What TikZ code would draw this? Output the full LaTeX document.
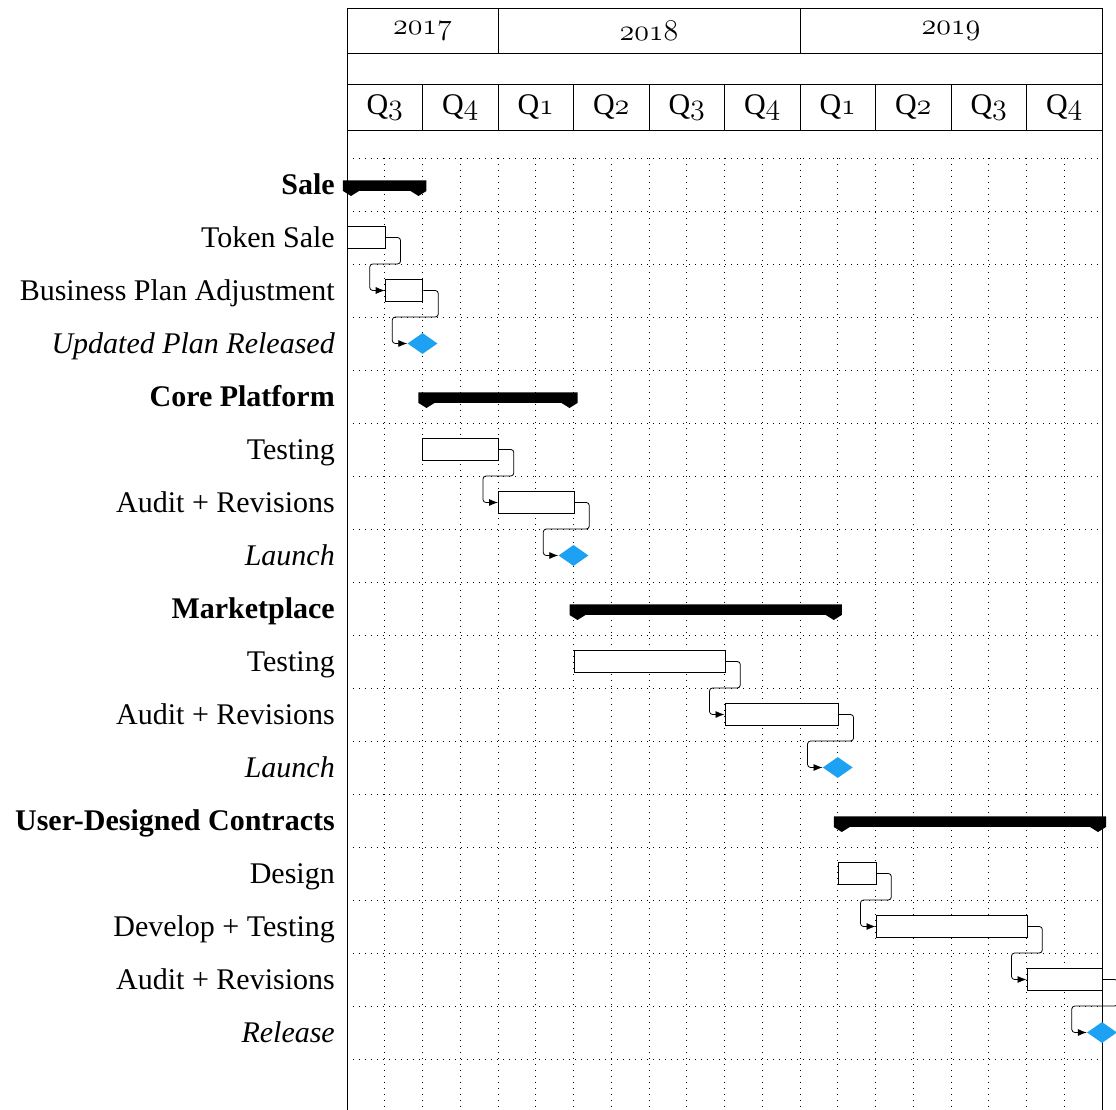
\documentclass[tikz,border=0pt]{standalone}
\usepackage{fix-cm}
\usepackage{fontspec}
\setmainfont{Liberation Serif}
\usetikzlibrary{shapes.geometric,arrows.meta}
\definecolor{msblue}{RGB}{29,161,242}

\begin{document}
\begin{tikzpicture}[x=37.75pt,y=-53pt,
    lbl/.style={anchor=base east,yshift=-10pt,inner sep=0pt,font=\fontsize{30}{36}\selectfont},
    grouplbl/.style={lbl,font=\fontsize{30}{36}\selectfont\bfseries},
    mslbl/.style={lbl,font=\fontsize{30}{36}\selectfont\itshape},
    hdr/.style={draw,line width=0.8pt,inner sep=0pt,font=\fontsize{30}{36}\selectfont},
    taskbar/.style={draw,fill=white,line width=0.8pt,inner sep=0pt,minimum height=22pt,anchor=west},
    milestone/.style={diamond,fill=msblue,inner sep=0pt,minimum width=30pt,minimum height=21pt},
    link/.style={line width=0.8pt,rounded corners=3pt,-{Latex[length=9pt,width=7pt]}},
    gridline/.style={line width=0.8pt,dash pattern=on 0.8pt off 5.2pt}]
    \useasboundingbox (-9.192,-2.981) rectangle (20.371,17.962);
    \clip (-9.192,-2.981) rectangle (20.371,17.962);
    % grid
    \foreach \r in {0,...,17} \draw[gridline] (0,\r) -- (20,\r);
    \foreach \s in {1,...,19} \draw[gridline] (\s,0) -- (\s,18);
    \draw[line width=0.8pt] (0,-2.83) -- (0,18);
    \draw[line width=0.8pt] (20,-2.83) -- (20,18);
    % title rows
    \node[hdr,minimum width=151pt,minimum height=45pt] (y2017) at (2,-2.406) {$\mathnormal{2017}$};
    \node[hdr,minimum width=302pt,minimum height=45pt] (y2018) at (8,-2.406) {$\mathnormal{2018}$};
    \node[hdr,minimum width=302pt,minimum height=45pt] (y2019) at (16,-2.406) {$\mathnormal{2019}$};
    \draw[line width=0.8pt] (0,-1.981) rectangle (20,-1.396);
    \node[hdr,minimum width=75.5pt,minimum height=46pt] (q17c) at (1,-0.962) {Q$\mathnormal{3}$};
    \node[hdr,minimum width=75.5pt,minimum height=46pt] (q17d) at (3,-0.962) {Q$\mathnormal{4}$};
    \node[hdr,minimum width=75.5pt,minimum height=46pt] (q18a) at (5,-0.962) {Q$\mathnormal{1}$};
    \node[hdr,minimum width=75.5pt,minimum height=46pt] (q18b) at (7,-0.962) {Q$\mathnormal{2}$};
    \node[hdr,minimum width=75.5pt,minimum height=46pt] (q18c) at (9,-0.962) {Q$\mathnormal{3}$};
    \node[hdr,minimum width=75.5pt,minimum height=46pt] (q18d) at (11,-0.962) {Q$\mathnormal{4}$};
    \node[hdr,minimum width=75.5pt,minimum height=46pt] (q19a) at (13,-0.962) {Q$\mathnormal{1}$};
    \node[hdr,minimum width=75.5pt,minimum height=46pt] (q19b) at (15,-0.962) {Q$\mathnormal{2}$};
    \node[hdr,minimum width=75.5pt,minimum height=46pt] (q19c) at (17,-0.962) {Q$\mathnormal{3}$};
    \node[hdr,minimum width=75.5pt,minimum height=46pt] (q19d) at (19,-0.962) {Q$\mathnormal{4}$};
    % row labels
    \node[grouplbl] (lsale) at (-0.318,0.5) {Sale};
    \node[lbl] (ltoken) at (-0.318,1.5) {Token Sale};
    \node[lbl] (lbizplan) at (-0.318,2.5) {Business Plan Adjustment};
    \node[mslbl] (lplanout) at (-0.318,3.5) {Updated Plan Released};
    \node[grouplbl] (lcore) at (-0.318,4.5) {Core Platform};
    \node[lbl] (lcoretest) at (-0.318,5.5) {Testing};
    \node[lbl] (lcoreaudit) at (-0.318,6.5) {Audit + Revisions};
    \node[mslbl] (lcorelaunch) at (-0.318,7.5) {Launch};
    \node[grouplbl] (lmkt) at (-0.318,8.5) {Marketplace};
    \node[lbl] (lmkttest) at (-0.318,9.5) {Testing};
    \node[lbl] (lmktaudit) at (-0.318,10.5) {Audit + Revisions};
    \node[mslbl] (lmktlaunch) at (-0.318,11.5) {Launch};
    \node[grouplbl] (ludc) at (-0.318,12.5) {User-Designed Contracts};
    \node[lbl] (ldesign) at (-0.318,13.5) {Design};
    \node[lbl] (ldevelop) at (-0.318,14.5) {Develop + Testing};
    \node[lbl] (ludcaudit) at (-0.318,15.5) {Audit + Revisions};
    \node[mslbl] (lrelease) at (-0.318,16.5) {Release};
    % group bars
    \fill ([xshift=-4pt,yshift=4pt]0,0.5) -- ([xshift=4pt,yshift=4pt]2,0.5) -- ([xshift=4pt,yshift=-6.5pt]2,0.5) -- ([xshift=-4pt,yshift=-11.5pt]2,0.5) -- ([xshift=-12pt,yshift=-6.5pt]2,0.5) -- ([xshift=12pt,yshift=-6.5pt]0,0.5) -- ([xshift=4pt,yshift=-11.5pt]0,0.5) -- ([xshift=-4pt,yshift=-6.5pt]0,0.5) -- cycle;
    \fill ([xshift=-4pt,yshift=4pt]2,4.5) -- ([xshift=4pt,yshift=4pt]6,4.5) -- ([xshift=4pt,yshift=-6.5pt]6,4.5) -- ([xshift=-4pt,yshift=-11.5pt]6,4.5) -- ([xshift=-12pt,yshift=-6.5pt]6,4.5) -- ([xshift=12pt,yshift=-6.5pt]2,4.5) -- ([xshift=4pt,yshift=-11.5pt]2,4.5) -- ([xshift=-4pt,yshift=-6.5pt]2,4.5) -- cycle;
    \fill ([xshift=-4pt,yshift=4pt]6,8.5) -- ([xshift=4pt,yshift=4pt]13,8.5) -- ([xshift=4pt,yshift=-6.5pt]13,8.5) -- ([xshift=-4pt,yshift=-11.5pt]13,8.5) -- ([xshift=-12pt,yshift=-6.5pt]13,8.5) -- ([xshift=12pt,yshift=-6.5pt]6,8.5) -- ([xshift=4pt,yshift=-11.5pt]6,8.5) -- ([xshift=-4pt,yshift=-6.5pt]6,8.5) -- cycle;
    \fill ([xshift=-4pt,yshift=4pt]13,12.5) -- ([xshift=4pt,yshift=4pt]20,12.5) -- ([xshift=4pt,yshift=-6.5pt]20,12.5) -- ([xshift=-4pt,yshift=-11.5pt]20,12.5) -- ([xshift=-12pt,yshift=-6.5pt]20,12.5) -- ([xshift=12pt,yshift=-6.5pt]13,12.5) -- ([xshift=4pt,yshift=-11.5pt]13,12.5) -- ([xshift=-4pt,yshift=-6.5pt]13,12.5) -- cycle;
    % task bars and milestones
    \node[taskbar,minimum width=37.75pt] (tokensale) at (0,1.5) {};
    \node[taskbar,minimum width=37.75pt] (bizplan) at (1,2.5) {};
    \node[milestone] (planout) at (2,3.5) {};
    \node[taskbar,minimum width=75.5pt] (coretest) at (2,5.5) {};
    \node[taskbar,minimum width=75.5pt] (coreaudit) at (4,6.5) {};
    \node[milestone] (corelaunch) at (6,7.5) {};
    \node[taskbar,minimum width=151pt] (mkttest) at (6,9.5) {};
    \node[taskbar,minimum width=113.25pt] (mktaudit) at (10,10.5) {};
    \node[milestone] (mktlaunch) at (13,11.5) {};
    \node[taskbar,minimum width=37.75pt] (design) at (13,13.5) {};
    \node[taskbar,minimum width=151pt] (develop) at (14,14.5) {};
    \node[taskbar,minimum width=75.5pt] (udcaudit) at (18,15.5) {};
    \node[milestone] (release) at (20,16.5) {};
    % links
    \draw[link] (tokensale.east) -- ++(15pt,0) -- ++(0,-26.5pt) -| ([xshift=-15pt]bizplan.west) -- (bizplan.west);
    \draw[link] (bizplan.east) -- ++(15pt,0) -- ++(0,-26.5pt) -| ([xshift=-15pt]planout.west) -- (planout.west);
    \draw[link] (coretest.east) -- ++(15pt,0) -- ++(0,-26.5pt) -| ([xshift=-15pt]coreaudit.west) -- (coreaudit.west);
    \draw[link] (coreaudit.east) -- ++(15pt,0) -- ++(0,-26.5pt) -| ([xshift=-15pt]corelaunch.west) -- (corelaunch.west);
    \draw[link] (mkttest.east) -- ++(15pt,0) -- ++(0,-26.5pt) -| ([xshift=-15pt]mktaudit.west) -- (mktaudit.west);
    \draw[link] (mktaudit.east) -- ++(15pt,0) -- ++(0,-26.5pt) -| ([xshift=-15pt]mktlaunch.west) -- (mktlaunch.west);
    \draw[link] (design.east) -- ++(15pt,0) -- ++(0,-26.5pt) -| ([xshift=-15pt]develop.west) -- (develop.west);
    \draw[link] (develop.east) -- ++(15pt,0) -- ++(0,-26.5pt) -| ([xshift=-15pt]udcaudit.west) -- (udcaudit.west);
    \draw[link] (udcaudit.east) -- ++(15pt,0) -- ++(0,-26.5pt) -| ([xshift=-15pt]release.west) -- (release.west);
\end{tikzpicture}
\end{document}
